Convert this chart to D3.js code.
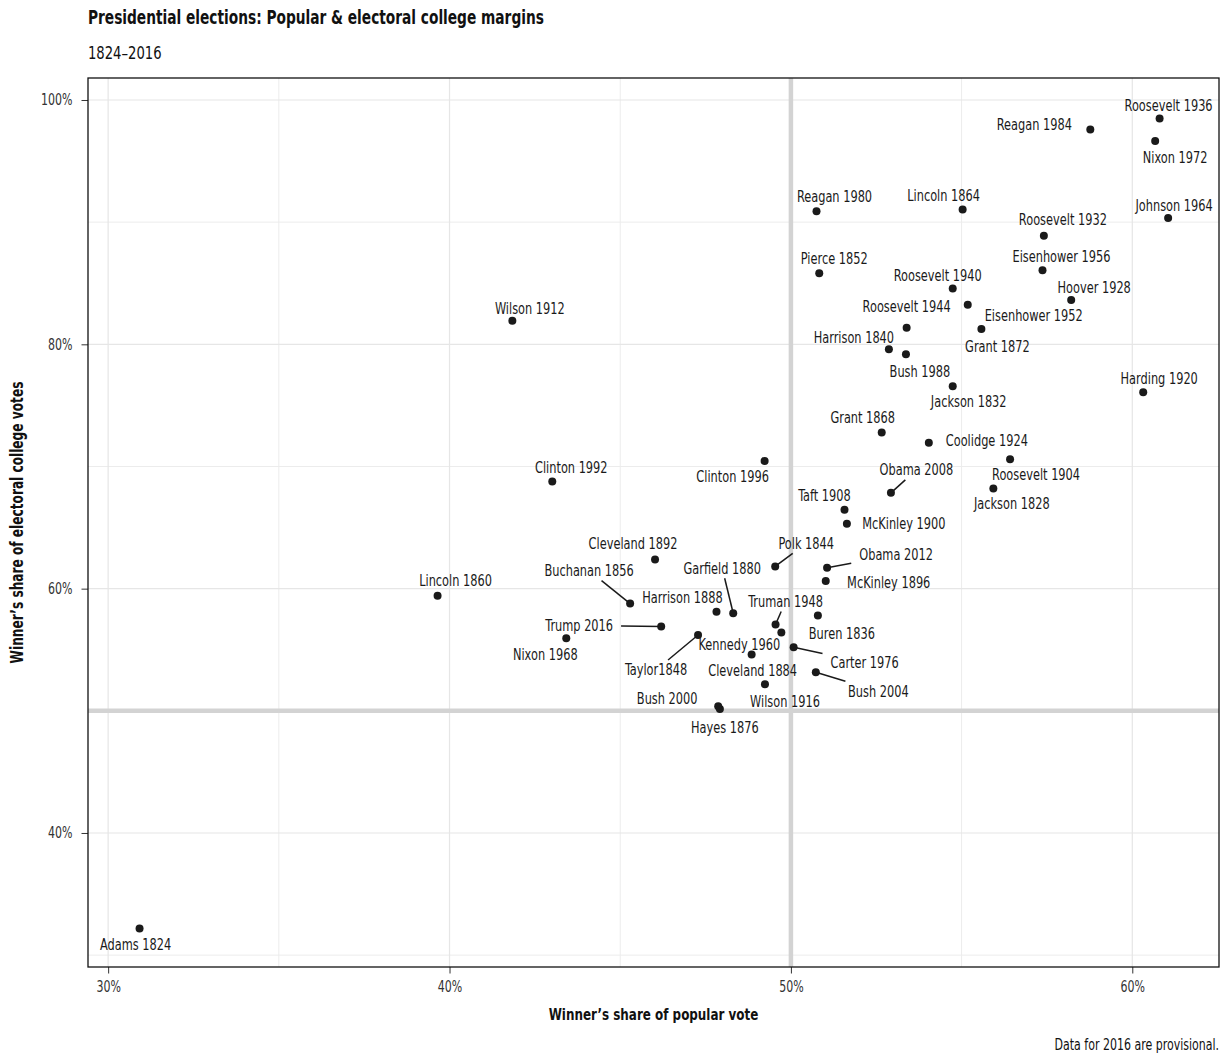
<!DOCTYPE html>
<html>
<head>
<meta charset="utf-8">
<script src="https://cdn.jsdelivr.net/npm/d3@7"></script>
<style>
  body { margin: 0; background: #fff; }
  svg { display: block; }
  text { font-family: "DejaVu Sans Condensed", "DejaVu Sans", sans-serif; }
</style>
</head>
<body>
<svg id="chart" width="1223" height="1056"></svg>
<script>
// ---- data ----
const labels = ["Adams 1824","Jackson 1828","Jackson 1832","Buren 1836","Harrison 1840","Polk 1844","Taylor1848","Pierce 1852","Buchanan 1856","Lincoln 1860","Lincoln 1864","Grant 1868","Grant 1872","Hayes 1876","Garfield 1880","Cleveland 1884","Harrison 1888","Cleveland 1892","McKinley 1896","McKinley 1900","Roosevelt 1904","Taft 1908","Wilson 1912","Wilson 1916","Harding 1920","Coolidge 1924","Hoover 1928","Roosevelt 1932","Roosevelt 1936","Roosevelt 1940","Roosevelt 1944","Truman 1948","Eisenhower 1952","Eisenhower 1956","Kennedy 1960","Johnson 1964","Nixon 1968","Nixon 1972","Carter 1976","Reagan 1980","Reagan 1984","Bush 1988","Clinton 1992","Clinton 1996","Bush 2000","Bush 2004","Obama 2008","Obama 2012","Trump 2016"];
const popularShare = [30.92,55.93,54.74,50.79,52.87,49.54,47.28,50.83,45.29,39.65,55.03,52.66,55.58,47.92,48.31,48.85,47.82,46.02,51.02,51.64,56.42,51.57,41.84,49.24,60.32,54.04,58.21,57.41,60.80,54.74,53.39,49.55,55.18,57.37,49.72,61.05,43.42,60.67,50.08,50.75,58.77,53.37,43.01,49.23,47.87,50.73,52.93,51.06,46.20];
const electoralShare = [32.18,68.20,76.57,57.80,79.59,61.82,56.21,85.81,58.78,59.41,91.03,72.79,81.25,50.14,57.99,54.61,58.10,62.39,60.63,65.32,70.59,66.46,81.92,52.17,76.08,71.94,83.62,88.89,98.49,84.56,81.36,57.06,83.24,86.06,56.42,90.33,55.95,96.65,55.20,90.89,97.58,79.18,68.77,70.45,50.37,53.16,67.84,61.71,56.90];
const xTicks = [30, 40, 50, 60];
const yTicks = [40, 60, 80, 100];
const xMinor = [35, 45, 55];
const yMinor = [30, 50, 70, 90];

// ---- label layout (repelled label offsets, pixels from the point) ----
const labelDx = [-4,18.5,16,24,-35,31,-42,15,-41,18,-19,-19,16,5,-11,1,-34,-22,63,57,26,-20,17.5,20,16,58,23,19,9,-15,0,10,66,19,-42,6,-21,20,71,18,-56,14,19,-32,-51,62.5,25.5,69,-82];
const labelDy = [16,15,15,18,-12,-23,35,-15,-33,-15,-14,-15,17,18,-45,16,-14,-16,2,0,15,-14,-12,17,-14,-2,-13,-16,-13,-13,-21,-23,11,-14,12,-13,16,17,15,-15,-5,17,-14,15,-8,19,-23,-13,-1];
const withSegment = ["Polk 1844","Taylor1848","Buchanan 1856","Garfield 1880","Truman 1948","Carter 1976","Bush 2004","Obama 2008","Obama 2012","Trump 2016"];

const data = labels.map((l, i) => ({label: l, x: popularShare[i], y: electoralShare[i], dx: labelDx[i], dy: labelDy[i]}));

const svg = d3.select("#chart");
const pL = 88, pR = 1219, pT = 78, pB = 967;
const K = 0.8; // horizontal condensing of the text face

// condense a text horizontally around its own origin (x is rescaled so the anchor stays put)
function condense(sel, k = K) {
  sel.each(function() {
    const xa = +(this.getAttribute("x") || 0);
    this.setAttribute("x", xa / k);
    const t = this.getAttribute("transform") || "";
    this.setAttribute("transform", (t + ` scale(${k},1)`).trim());
  });
  return sel;
}

const x = d3.scaleLinear().domain([29.41, 62.54]).range([pL, pR]);
const y = d3.scaleLinear().domain([29.03, 101.8]).range([pB, pT]);

// title, subtitle
condense(svg.append("text").attr("x", 88).attr("y", 24).attr("font-size", 19.1).attr("font-weight", "bold").attr("fill", "#111")
  .text("Presidential elections: Popular & electoral college margins"));
condense(svg.append("text").attr("x", 88).attr("y", 59).attr("font-size", 18.3).attr("fill", "#111").text("1824–2016"));

const grid = svg.append("g");
grid.selectAll(".vminor").data(xMinor).join("line")
  .attr("x1", d => x(d)).attr("x2", d => x(d)).attr("y1", pT).attr("y2", pB)
  .attr("stroke", "#ececec").attr("stroke-width", 1);
grid.selectAll(".hminor").data(yMinor).join("line")
  .attr("y1", d => y(d)).attr("y2", d => y(d)).attr("x1", pL).attr("x2", pR)
  .attr("stroke", "#ececec").attr("stroke-width", 1);
grid.selectAll(".vmajor").data(xTicks).join("line")
  .attr("x1", d => x(d)).attr("x2", d => x(d)).attr("y1", pT).attr("y2", pB)
  .attr("stroke", "#e6e6e6").attr("stroke-width", 1.2);
grid.selectAll(".hmajor").data(yTicks).join("line")
  .attr("y1", d => y(d)).attr("y2", d => y(d)).attr("x1", pL).attr("x2", pR)
  .attr("stroke", "#e6e6e6").attr("stroke-width", 1.2);

// reference lines at 50%
svg.append("line").attr("x1", x(50)).attr("x2", x(50)).attr("y1", pT).attr("y2", pB)
  .attr("stroke", "#d3d3d3").attr("stroke-width", 4.5);
svg.append("line").attr("y1", y(50)).attr("y2", y(50)).attr("x1", pL).attr("x2", pR)
  .attr("stroke", "#d3d3d3").attr("stroke-width", 4.5);

// axes
const fmt = d => d + "%";
const xAxis = svg.append("g").attr("transform", `translate(0,${pB})`)
  .call(d3.axisBottom(x).tickValues(xTicks).tickFormat(fmt).tickSizeInner(6.5).tickSizeOuter(0).tickPadding(8));
const yAxis = svg.append("g").attr("transform", `translate(${pL},0)`)
  .call(d3.axisLeft(y).tickValues(yTicks).tickFormat(fmt).tickSizeInner(6.5).tickSizeOuter(0).tickPadding(9));
[xAxis, yAxis].forEach(a => {
  a.attr("font-size", null).attr("font-family", null);
  a.select(".domain").remove();
  a.selectAll(".tick line").attr("stroke", "#333").attr("stroke-width", 1);
  a.selectAll(".tick text").attr("fill", "#333")
    .style("font-size", "15.3px")
    .style("font-family", '"DejaVu Sans Condensed", "DejaVu Sans", sans-serif');
  condense(a.selectAll(".tick text"));
});

// panel border
svg.append("rect").attr("x", pL).attr("y", pT).attr("width", pR - pL).attr("height", pB - pT)
  .attr("fill", "none").attr("stroke", "#111").attr("stroke-width", 1.3);

// labels & segments
const fs = 15.8;
const segG = svg.append("g");
const labG = svg.append("g");
const texts = labG.selectAll("text").data(data).join("text")
  .attr("x", d => x(d.x) + d.dx).attr("y", d => y(d.y) + d.dy)
  .attr("dy", "0.35em").attr("text-anchor", "middle")
  .attr("font-size", fs).attr("fill", "#1a1a1a")
  .text(d => d.label);

texts.each(function(d) {
  const w = this.getComputedTextLength() * K;
  if (!withSegment.includes(d.label)) return;
  const padX = 8, padY = 3;
  const cx = x(d.x) + d.dx, cy = y(d.y) + d.dy;
  const x0 = cx - w / 2 - padX, x1 = cx + w / 2 + padX;
  const y0 = cy - 7 - padY, y1 = cy + 7 + padY;
  const px = x(d.x), py = y(d.y);
  const vx = px - cx, vy = py - cy;
  let t = Infinity;
  if (vx > 0) t = Math.min(t, (x1 - cx) / vx);
  if (vx < 0) t = Math.min(t, (x0 - cx) / vx);
  if (vy > 0) t = Math.min(t, (y1 - cy) / vy);
  if (vy < 0) t = Math.min(t, (y0 - cy) / vy);
  segG.append("line").attr("x1", cx + t * vx).attr("y1", cy + t * vy).attr("x2", px).attr("y2", py)
    .attr("stroke", "#1a1a1a").attr("stroke-width", 1.5);
});
condense(texts);

// points
svg.append("g").selectAll("circle").data(data).join("circle")
  .attr("cx", d => x(d.x)).attr("cy", d => y(d.y)).attr("r", 4)
  .attr("fill", "#1a1a1a");

// axis titles
condense(svg.append("text").attr("x", (pL + pR) / 2).attr("y", 1020).attr("text-anchor", "middle")
  .attr("font-size", 16.6).attr("font-weight", "bold").attr("fill", "#111").text("Winner’s share of popular vote"));
condense(svg.append("text").attr("transform", `translate(23,${(pT + pB) / 2}) rotate(-90)`).attr("text-anchor", "middle")
  .attr("font-size", 16.9).attr("font-weight", "bold").attr("fill", "#111").text("Winner’s share of electoral college votes"));

// caption
condense(svg.append("text").attr("x", pR).attr("y", 1050).attr("text-anchor", "end")
  .attr("font-size", 15.3).attr("fill", "#111").text("Data for 2016 are provisional."));
</script>
</body>
</html>
